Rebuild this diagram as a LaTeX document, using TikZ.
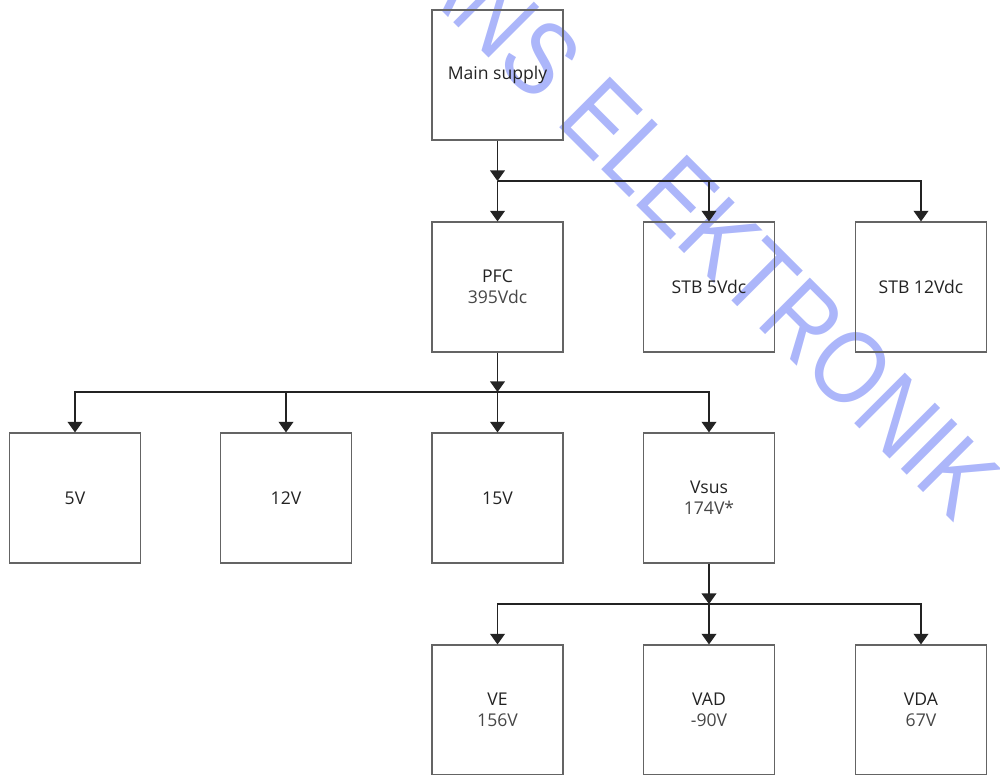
\documentclass[tikz,border=0pt]{standalone}
\usepackage{fontspec}
\setmainfont{Open Sans}
\newfontfamily\markfont{Liberation Sans}
\usetikzlibrary{arrows.meta}
\definecolor{markblue}{RGB}{172,182,250}
\definecolor{boxgray}{RGB}{100,100,100}
\definecolor{valgray}{RGB}{70,70,70}
\definecolor{linedark}{RGB}{35,35,35}

\begin{document}
\begin{tikzpicture}[x=0.025cm,y=-0.025cm,
  psbox/.style={draw=boxgray,line width=0.8pt,minimum width=3.275cm,minimum height=3.25cm,
    inner sep=0pt,align=center,text=linedark,font=\fontsize{12.5}{15}\selectfont},
  feed/.style={draw=linedark,line width=0.8pt,-{Triangle[width=10.5pt,length=7.5pt]}}]
\useasboundingbox (0,0) rectangle (1000,775);

% watermark
\begin{scope}
\clip (0,0) rectangle (1000,775);
\node[text=markblue,rotate=-45,xscale=0.86,font=\markfont\fontsize{74}{74}\selectfont] (mark) at (706,224) {ANS ELEKTRONIK};
\end{scope}

% boxes
\node[psbox] (main) at (497.5,75) {Main supply};
\node[psbox] (pfc) at (497.5,287) {PFC\\\textcolor{valgray}{395Vdc}};
\node[psbox] (stbfive) at (709,287) {STB 5Vdc};
\node[psbox] (stbtwelve) at (921,287) {STB 12Vdc};
\node[psbox] (vfive) at (75,498) {5V};
\node[psbox] (vtwelve) at (286,498) {12V};
\node[psbox] (vfifteen) at (497.5,498) {15V};
\node[psbox] (vsus) at (709,498) {Vsus\\\textcolor{valgray}{174V*}};
\node[psbox] (ve) at (497.5,710) {VE\\\textcolor{valgray}{156V}};
\node[psbox] (vad) at (709,710) {VAD\\\textcolor{valgray}{-90V}};
\node[psbox] (vda) at (921,710) {VDA\\\textcolor{valgray}{67V}};

% buses
\coordinate (busone) at (497.5,181);
\coordinate (bustwo) at (497.5,392);
\coordinate (busthree) at (709,604);

\draw[feed] (main.south) -- (busone);
\foreach \n in {pfc,stbfive,stbtwelve}
  \draw[feed] (busone) -| (\n.north);

\draw[feed] (pfc.south) -- (bustwo);
\foreach \n in {vfive,vtwelve,vfifteen,vsus}
  \draw[feed] (bustwo) -| (\n.north);

\draw[feed] (vsus.south) -- (busthree);
\foreach \n in {ve,vad,vda}
  \draw[feed] (busthree) -| (\n.north);
\end{tikzpicture}
\end{document}
